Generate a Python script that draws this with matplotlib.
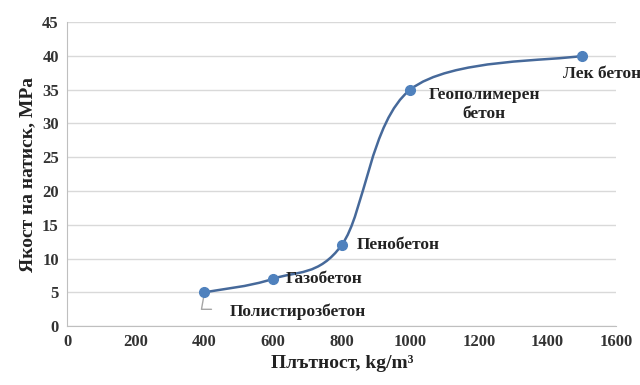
import matplotlib
matplotlib.use('Agg')
from matplotlib import pyplot as plt
from matplotlib.path import Path
from matplotlib import patches

density = [400, 600, 800, 1000, 1500]
strength = [5, 7, 12, 35, 40]
names = ['Полистирозбетон', 'Газобетон', 'Пенобетон', 'Геополимерен\nбетон', 'Лек бетон']

plt.rcParams['font.family'] = ['Liberation Serif', 'DejaVu Serif']
plt.rcParams['font.weight'] = 'bold'

fig = plt.figure(figsize=(6.4, 3.85), dpi=100)
ax = fig.add_axes([0.105, 0.153, 0.858, 0.79])

# smoothed line like Excel: cubic Bezier segments (Catmull-Rom control points)
verts = [(density[0], strength[0])]
codes = [Path.MOVETO]
n = len(density)
for i in range(n - 1):
    p0 = (density[max(i - 1, 0)], strength[max(i - 1, 0)])
    p1 = (density[i], strength[i])
    p2 = (density[i + 1], strength[i + 1])
    p3 = (density[min(i + 2, n - 1)], strength[min(i + 2, n - 1)])
    c1 = (p1[0] + (p2[0] - p0[0]) / 6, p1[1] + (p2[1] - p0[1]) / 6)
    c2 = (p2[0] - (p3[0] - p1[0]) / 6, p2[1] - (p3[1] - p1[1]) / 6)
    verts += [c1, c2, p2]
    codes += [Path.CURVE4] * 3
ax.add_patch(patches.PathPatch(Path(verts, codes), facecolor='none',
                               edgecolor='#46699a', lw=1.8, zorder=3))
ax.plot(density, strength, 'o', color='#4f81bd', ms=7, zorder=4)

# offsets in pixels (dpi 100) -> points
offsets = [(25, -19, 'left'), (13, 0, 'left'), (15, 0, 'left'),
           (18, -15, 'left'), (-19, -18, 'left')]
for x, y, name, (dx, dy, ha) in zip(density, strength, names, offsets):
    ax.annotate(name, (x, y), xytext=(dx * 0.72, dy * 0.72), textcoords='offset points',
                ha=ha, va='center', fontsize=12.5, fontweight='bold', color='#222222',
                linespacing=1.25, multialignment='center', zorder=5)

# leader line for the first label
ax.annotate('', (density[0], strength[0]), xytext=(7 * 0.72, -17 * 0.72),
            textcoords='offset points',
            arrowprops=dict(arrowstyle='-', color='#a6a6a6', lw=1,
                            shrinkA=0, shrinkB=4, connectionstyle='angle,angleA=0,angleB=80'))

ax.set_xlim(0, 1600)
ax.set_ylim(0, 45)
ax.set_xticks(range(0, 1601, 200))
ax.set_yticks(range(0, 46, 5))
ax.grid(axis='y', color='#d9d9d9', lw=1)
ax.set_axisbelow(True)
for s in ['top', 'right']:
    ax.spines[s].set_visible(False)
for s in ['left', 'bottom']:
    ax.spines[s].set_color('#bfbfbf')
ax.tick_params(axis='both', length=0, labelsize=12, colors='#333333', pad=6)
for lbl in ax.get_xticklabels() + ax.get_yticklabels():
    lbl.set_fontweight('bold')
ax.set_xlabel('Плътност, kg/m³', fontsize=14, fontweight='bold', color='#222222', labelpad=3)
ax.set_ylabel('Якост на натиск, MPa', fontsize=14, fontweight='bold', color='#222222', labelpad=4)

fig.savefig('out.png', dpi=100)
